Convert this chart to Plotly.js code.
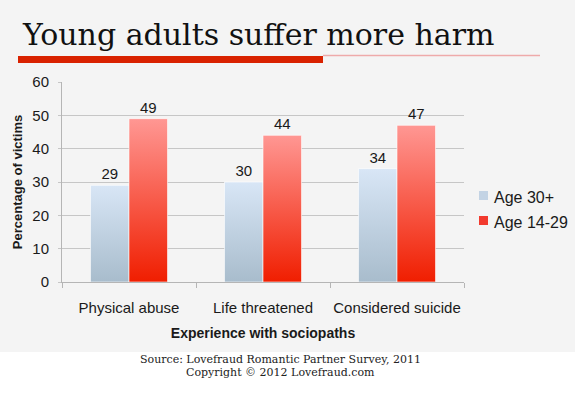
<!DOCTYPE html>
<html>
<head>
<meta charset="utf-8">
<script src="https://cdn.plot.ly/plotly-3.0.1.min.js"></script>
<style>
html,body{margin:0;padding:0;background:#fff;}
#chart{width:575px;height:393px;}
</style>
</head>
<body>
<div id="chart"></div>
<script>
const categories = ['Physical abuse', 'Life threatened', 'Considered suicide'];
const seriesNames = ['Age 30+', 'Age 14-29'];
const seriesColors = ['#c3d3e4', '#f23a2e'];
const age30plus = [29, 30, 34];
const age14to29 = [49, 44, 47];
const yTicks = [0, 10, 20, 30, 40, 50, 60];
const titleText = 'Young adults suffer more harm';
const xTitle = 'Experience with sociopaths';
const yTitle = 'Percentage of victims';
const sourceLines = ['Source: Lovefraud Romantic Partner Survey, 2011', 'Copyright \u00a9 2012 Lovefraud.com'];

const W = 575, H = 393;
const M = {l: 62, r: 111, t: 82, b: 111};
const PW = W - M.l - M.r, PH = H - M.t - M.b;
const px = x => (x - M.l) / PW;
const py = y => (H - M.b - y) / PH;

const sans = 'Liberation Sans, Arial, sans-serif';
const serif = 'DejaVu Serif, serif';

const traces = [age30plus, age14to29].map((vals, i) => ({
  type: 'bar', name: seriesNames[i], x: categories, y: vals,
  text: vals.map(String), textposition: 'outside', cliponaxis: false,
  textfont: {family: sans, size: 15, color: '#1a1a1a'},
  marker: {color: seriesColors[i], line: {color: 'rgba(255,255,255,0.6)', width: 1}},
  hoverinfo: 'none', showlegend: false
}));

// custom legend (symbol + label), positioned like the reference
const legendTop = 197, legendStep = 25;
const legendShapes = seriesNames.map((n, i) => ({
  type: 'rect', xref: 'paper', yref: 'paper', layer: 'above',
  x0: px(479), x1: px(488),
  y0: py(legendTop + i * legendStep - 6), y1: py(legendTop + i * legendStep + 3),
  fillcolor: seriesColors[i], line: {width: 0}
}));
const legendLabels = seriesNames.map((n, i) => ({
  text: n, xref: 'paper', yref: 'paper', x: px(492), y: py(legendTop + i * legendStep),
  xanchor: 'left', yanchor: 'middle', showarrow: false,
  font: {family: sans, size: 16, color: '#1a1a1a'}
}));

const layout = {
  width: W, height: H,
  margin: M,
  paper_bgcolor: '#ffffff',
  plot_bgcolor: 'rgba(0,0,0,0)',
  barmode: 'group',
  bargap: 0.425,
  bargroupgap: 0,
  showlegend: false,
  font: {family: sans, color: '#1a1a1a'},
  xaxis: {
    type: 'category',
    showgrid: false, zeroline: false,
    showline: true, linecolor: '#b5b5b5', linewidth: 1,
    ticks: 'outside', tickson: 'boundaries', ticklen: 5, tickcolor: '#b5b5b5',
    ticklabelstandoff: 12, tickangle: 0,
    tickfont: {family: sans, size: 15, color: '#1a1a1a'},
    title: {text: xTitle, font: {family: sans, size: 14, color: '#1a1a1a', weight: 'bold'}, standoff: 13}
  },
  yaxis: {
    range: [0, 60], tickvals: yTicks, ticktext: yTicks.map(String),
    showgrid: true, gridcolor: '#c6c6c6', gridwidth: 1, zeroline: false,
    showline: true, linecolor: '#b5b5b5', linewidth: 1,
    ticks: 'outside', ticklen: 3, tickcolor: '#c6c6c6',
    ticklabelstandoff: 6,
    tickfont: {family: sans, size: 15, color: '#1a1a1a'},
    title: {text: yTitle, font: {family: sans, size: 13, color: '#1a1a1a', weight: 'bold'}, standoff: 6}
  },
  shapes: [
    {type: 'rect', xref: 'paper', yref: 'paper', layer: 'below',
     x0: px(0), x1: px(W), y0: py(352), y1: py(0),
     fillcolor: '#f4f4f4', line: {width: 0}},
    {type: 'rect', xref: 'paper', yref: 'paper', layer: 'above',
     x0: px(18), x1: px(323), y0: py(63), y1: py(56),
     fillcolor: '#d92200', line: {width: 0}},
    {type: 'line', xref: 'paper', yref: 'paper', layer: 'above',
     x0: px(323), x1: px(540), y0: py(55.5), y1: py(55.5),
     line: {color: '#eeaaaa', width: 1.5}}
  ].concat(legendShapes),
  annotations: [
    {text: titleText, xref: 'paper', yref: 'paper', x: px(20), y: py(34), xanchor: 'left', yanchor: 'middle',
     showarrow: false, font: {family: serif, size: 30, color: '#111'}},
    {text: sourceLines[0], xref: 'paper', yref: 'paper', x: px(280), y: py(359), xanchor: 'center', yanchor: 'middle',
     showarrow: false, font: {family: serif, size: 11, color: '#222'}},
    {text: sourceLines[1], xref: 'paper', yref: 'paper', x: px(280), y: py(372), xanchor: 'center', yanchor: 'middle',
     showarrow: false, font: {family: serif, size: 11, color: '#222'}}
  ].concat(legendLabels)
};

const gd = document.getElementById('chart');

function applyGradients() {
  const svg = gd.querySelector('svg.main-svg');
  if (!svg) return;
  const NS = 'http://www.w3.org/2000/svg';
  let defs = svg.querySelector('defs#customGrads');
  if (!defs) {
    defs = document.createElementNS(NS, 'defs');
    defs.setAttribute('id', 'customGrads');
    const mk = (id, c0, c1) => {
      const g = document.createElementNS(NS, 'linearGradient');
      g.setAttribute('id', id);
      g.setAttribute('x1', '0'); g.setAttribute('y1', '0');
      g.setAttribute('x2', '0'); g.setAttribute('y2', '1');
      [[0, c0], [1, c1]].forEach(([o, c]) => {
        const s = document.createElementNS(NS, 'stop');
        s.setAttribute('offset', String(o));
        s.setAttribute('stop-color', c);
        g.appendChild(s);
      });
      defs.appendChild(g);
    };
    mk('gradBlue', '#d8e6f6', '#a8bccc');
    mk('gradRed', '#ff9793', '#f01e00');
    svg.insertBefore(defs, svg.firstChild);
  }
  const traceGroups = gd.querySelectorAll('.barlayer .trace.bars');
  const ids = ['gradBlue', 'gradRed'];
  traceGroups.forEach((t, i) => {
    t.querySelectorAll('.point path').forEach(p => {
      p.style.fill = 'url(#' + ids[i % 2] + ')';
    });
  });
}

Plotly.newPlot(gd, traces, layout, {staticPlot: true, displayModeBar: false}).then(applyGradients);
gd.on && gd.on('plotly_afterplot', applyGradients);
</script>
</body>
</html>
